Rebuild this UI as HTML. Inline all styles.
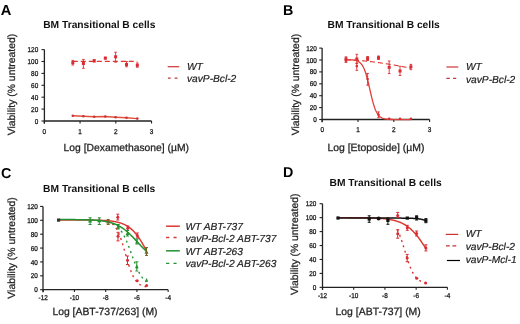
<!DOCTYPE html>
<html><head><meta charset="utf-8"><style>
html,body{margin:0;padding:0;background:#fff;}
svg{display:block;font-family:"Liberation Sans", sans-serif;text-rendering:geometricPrecision;filter:blur(0.35px);}
</style></head><body>
<svg width="520" height="324" viewBox="0 0 520 324">
<rect width="520" height="324" fill="#fff"/>
<text x="0.75" y="14.80" font-size="14.7" font-weight="bold" font-style="normal" text-anchor="start" fill="#000" >A</text>
<text x="43.20" y="27.60" font-size="10.25" font-weight="bold" font-style="normal" text-anchor="start" fill="#111" >BM Transitional B cells</text>
<line x1="44.40" y1="49.60" x2="44.40" y2="123.60" stroke="#222" stroke-width="1.3"/>
<line x1="41.50" y1="121.00" x2="44.40" y2="121.00" stroke="#222" stroke-width="1.1"/>
<text transform="translate(38.20,123.56) scale(0.9,1.0)" font-size="7.1" font-weight="normal" font-style="normal" text-anchor="end" fill="#1a1a1a" stroke="#1a1a1a" stroke-width="0.3">0</text>
<line x1="41.50" y1="109.10" x2="44.40" y2="109.10" stroke="#222" stroke-width="1.1"/>
<text transform="translate(38.20,111.66) scale(0.9,1.0)" font-size="7.1" font-weight="normal" font-style="normal" text-anchor="end" fill="#1a1a1a" stroke="#1a1a1a" stroke-width="0.3">20</text>
<line x1="41.50" y1="97.20" x2="44.40" y2="97.20" stroke="#222" stroke-width="1.1"/>
<text transform="translate(38.20,99.76) scale(0.9,1.0)" font-size="7.1" font-weight="normal" font-style="normal" text-anchor="end" fill="#1a1a1a" stroke="#1a1a1a" stroke-width="0.3">40</text>
<line x1="41.50" y1="85.30" x2="44.40" y2="85.30" stroke="#222" stroke-width="1.1"/>
<text transform="translate(38.20,87.86) scale(0.9,1.0)" font-size="7.1" font-weight="normal" font-style="normal" text-anchor="end" fill="#1a1a1a" stroke="#1a1a1a" stroke-width="0.3">60</text>
<line x1="41.50" y1="73.40" x2="44.40" y2="73.40" stroke="#222" stroke-width="1.1"/>
<text transform="translate(38.20,75.96) scale(0.9,1.0)" font-size="7.1" font-weight="normal" font-style="normal" text-anchor="end" fill="#1a1a1a" stroke="#1a1a1a" stroke-width="0.3">80</text>
<line x1="41.50" y1="61.50" x2="44.40" y2="61.50" stroke="#222" stroke-width="1.1"/>
<text transform="translate(38.20,64.06) scale(0.9,1.0)" font-size="7.1" font-weight="normal" font-style="normal" text-anchor="end" fill="#1a1a1a" stroke="#1a1a1a" stroke-width="0.3">100</text>
<line x1="41.50" y1="49.60" x2="44.40" y2="49.60" stroke="#222" stroke-width="1.1"/>
<text transform="translate(38.20,52.16) scale(0.9,1.0)" font-size="7.1" font-weight="normal" font-style="normal" text-anchor="end" fill="#1a1a1a" stroke="#1a1a1a" stroke-width="0.3">120</text>
<line x1="44.40" y1="121.00" x2="151.55" y2="121.00" stroke="#222" stroke-width="1.3"/>
<line x1="44.30" y1="121.00" x2="44.30" y2="123.40" stroke="#222" stroke-width="1.1"/>
<text transform="translate(44.30,133.56) scale(0.9,1.0)" font-size="7.1" font-weight="normal" font-style="normal" text-anchor="middle" fill="#1a1a1a" stroke="#1a1a1a" stroke-width="0.3">0</text>
<line x1="80.05" y1="121.00" x2="80.05" y2="123.40" stroke="#222" stroke-width="1.1"/>
<text transform="translate(80.05,133.56) scale(0.9,1.0)" font-size="7.1" font-weight="normal" font-style="normal" text-anchor="middle" fill="#1a1a1a" stroke="#1a1a1a" stroke-width="0.3">1</text>
<line x1="115.80" y1="121.00" x2="115.80" y2="123.40" stroke="#222" stroke-width="1.1"/>
<text transform="translate(115.80,133.56) scale(0.9,1.0)" font-size="7.1" font-weight="normal" font-style="normal" text-anchor="middle" fill="#1a1a1a" stroke="#1a1a1a" stroke-width="0.3">2</text>
<line x1="151.55" y1="121.00" x2="151.55" y2="123.40" stroke="#222" stroke-width="1.1"/>
<text transform="translate(151.55,133.56) scale(0.9,1.0)" font-size="7.1" font-weight="normal" font-style="normal" text-anchor="middle" fill="#1a1a1a" stroke="#1a1a1a" stroke-width="0.3">3</text>
<text x="63.50" y="151.30" font-size="10.35" font-weight="normal" font-style="normal" text-anchor="start" fill="#222" stroke="#222" stroke-width="0.25">Log [Dexamethasone] (µM)</text>
<text transform="translate(15.20,84.50) rotate(-90)" x="0" y="0" font-size="10.4" text-anchor="middle" fill="#222" stroke="#222" stroke-width="0.25">Viability (% untreated)</text>
<line x1="72.80" y1="61.30" x2="137.30" y2="61.30" stroke="#dc3830" stroke-width="1.2" stroke-dasharray="5,3"/>
<line x1="72.80" y1="60.40" x2="72.80" y2="65.00" stroke="#da2c34" stroke-width="0.9"/>
<line x1="71.50" y1="60.40" x2="74.10" y2="60.40" stroke="#da2c34" stroke-width="0.9"/>
<line x1="71.50" y1="65.00" x2="74.10" y2="65.00" stroke="#da2c34" stroke-width="0.9"/>
<rect x="71.30" y="61.20" width="3.0" height="3.0" fill="#da2c34"/>
<line x1="83.40" y1="59.40" x2="83.40" y2="68.30" stroke="#da2c34" stroke-width="0.9"/>
<line x1="82.10" y1="59.40" x2="84.70" y2="59.40" stroke="#da2c34" stroke-width="0.9"/>
<line x1="82.10" y1="68.30" x2="84.70" y2="68.30" stroke="#da2c34" stroke-width="0.9"/>
<rect x="81.90" y="62.00" width="3.0" height="3.0" fill="#da2c34"/>
<line x1="94.20" y1="59.60" x2="94.20" y2="62.00" stroke="#da2c34" stroke-width="0.9"/>
<line x1="92.90" y1="59.60" x2="95.50" y2="59.60" stroke="#da2c34" stroke-width="0.9"/>
<line x1="92.90" y1="62.00" x2="95.50" y2="62.00" stroke="#da2c34" stroke-width="0.9"/>
<rect x="92.70" y="59.30" width="3.0" height="3.0" fill="#da2c34"/>
<line x1="105.30" y1="57.30" x2="105.30" y2="59.00" stroke="#da2c34" stroke-width="0.9"/>
<line x1="104.00" y1="57.30" x2="106.60" y2="57.30" stroke="#da2c34" stroke-width="0.9"/>
<line x1="104.00" y1="59.00" x2="106.60" y2="59.00" stroke="#da2c34" stroke-width="0.9"/>
<rect x="103.80" y="56.60" width="3.0" height="3.0" fill="#da2c34"/>
<line x1="115.60" y1="52.20" x2="115.60" y2="62.20" stroke="#da2c34" stroke-width="0.9"/>
<line x1="114.30" y1="52.20" x2="116.90" y2="52.20" stroke="#da2c34" stroke-width="0.9"/>
<line x1="114.30" y1="62.20" x2="116.90" y2="62.20" stroke="#da2c34" stroke-width="0.9"/>
<rect x="114.10" y="55.30" width="3.0" height="3.0" fill="#da2c34"/>
<line x1="126.50" y1="61.50" x2="126.50" y2="66.80" stroke="#da2c34" stroke-width="0.9"/>
<line x1="125.20" y1="61.50" x2="127.80" y2="61.50" stroke="#da2c34" stroke-width="0.9"/>
<line x1="125.20" y1="66.80" x2="127.80" y2="66.80" stroke="#da2c34" stroke-width="0.9"/>
<rect x="125.00" y="63.00" width="3.0" height="3.0" fill="#da2c34"/>
<line x1="137.30" y1="63.00" x2="137.30" y2="67.20" stroke="#da2c34" stroke-width="0.9"/>
<line x1="136.00" y1="63.00" x2="138.60" y2="63.00" stroke="#da2c34" stroke-width="0.9"/>
<line x1="136.00" y1="67.20" x2="138.60" y2="67.20" stroke="#da2c34" stroke-width="0.9"/>
<rect x="135.80" y="63.80" width="3.0" height="3.0" fill="#da2c34"/>
<path d="M72.80,115.70 L83.40,116.20 L94.20,116.70 L105.30,116.50 L115.60,117.20 L126.50,117.80 L137.30,118.60" fill="none" stroke="#e0503a" stroke-width="1.45"/>
<circle cx="72.80" cy="115.70" r="1.3" fill="#c8343a"/>
<circle cx="83.40" cy="116.20" r="1.3" fill="#c8343a"/>
<circle cx="94.20" cy="116.70" r="1.3" fill="#c8343a"/>
<circle cx="105.30" cy="116.50" r="1.3" fill="#c8343a"/>
<circle cx="115.60" cy="117.20" r="1.3" fill="#c8343a"/>
<circle cx="126.50" cy="117.80" r="1.3" fill="#c8343a"/>
<circle cx="137.30" cy="118.60" r="1.3" fill="#c8343a"/>
<line x1="167.70" y1="66.70" x2="179.20" y2="66.70" stroke="#cc3434" stroke-width="1.2"/>
<text x="187.00" y="69.50" font-size="10.2" font-weight="normal" font-style="italic" text-anchor="start" fill="#222" stroke="#222" stroke-width="0.2">WT</text>
<line x1="167.90" y1="78.10" x2="177.80" y2="78.10" stroke="#b83a3a" stroke-width="1.3" stroke-dasharray="2.8,3.9"/>
<text x="187.00" y="82.20" font-size="10.2" font-weight="normal" font-style="italic" text-anchor="start" fill="#222" stroke="#222" stroke-width="0.2">vavP-Bcl-2</text>
<text x="282.90" y="14.80" font-size="14.3" font-weight="bold" font-style="normal" text-anchor="start" fill="#000" >B</text>
<text x="327.50" y="27.70" font-size="10.25" font-weight="bold" font-style="normal" text-anchor="start" fill="#111" >BM Transitional B cells</text>
<line x1="322.10" y1="48.10" x2="322.10" y2="122.20" stroke="#222" stroke-width="1.3"/>
<line x1="319.20" y1="119.50" x2="322.10" y2="119.50" stroke="#222" stroke-width="1.1"/>
<text transform="translate(316.80,122.06) scale(0.9,1.0)" font-size="7.1" font-weight="normal" font-style="normal" text-anchor="end" fill="#1a1a1a" stroke="#1a1a1a" stroke-width="0.3">0</text>
<line x1="319.20" y1="107.60" x2="322.10" y2="107.60" stroke="#222" stroke-width="1.1"/>
<text transform="translate(316.80,110.16) scale(0.9,1.0)" font-size="7.1" font-weight="normal" font-style="normal" text-anchor="end" fill="#1a1a1a" stroke="#1a1a1a" stroke-width="0.3">20</text>
<line x1="319.20" y1="95.70" x2="322.10" y2="95.70" stroke="#222" stroke-width="1.1"/>
<text transform="translate(316.80,98.26) scale(0.9,1.0)" font-size="7.1" font-weight="normal" font-style="normal" text-anchor="end" fill="#1a1a1a" stroke="#1a1a1a" stroke-width="0.3">40</text>
<line x1="319.20" y1="83.80" x2="322.10" y2="83.80" stroke="#222" stroke-width="1.1"/>
<text transform="translate(316.80,86.36) scale(0.9,1.0)" font-size="7.1" font-weight="normal" font-style="normal" text-anchor="end" fill="#1a1a1a" stroke="#1a1a1a" stroke-width="0.3">60</text>
<line x1="319.20" y1="71.90" x2="322.10" y2="71.90" stroke="#222" stroke-width="1.1"/>
<text transform="translate(316.80,74.46) scale(0.9,1.0)" font-size="7.1" font-weight="normal" font-style="normal" text-anchor="end" fill="#1a1a1a" stroke="#1a1a1a" stroke-width="0.3">80</text>
<line x1="319.20" y1="60.00" x2="322.10" y2="60.00" stroke="#222" stroke-width="1.1"/>
<text transform="translate(316.80,62.56) scale(0.9,1.0)" font-size="7.1" font-weight="normal" font-style="normal" text-anchor="end" fill="#1a1a1a" stroke="#1a1a1a" stroke-width="0.3">100</text>
<line x1="319.20" y1="48.10" x2="322.10" y2="48.10" stroke="#222" stroke-width="1.1"/>
<text transform="translate(316.80,50.66) scale(0.9,1.0)" font-size="7.1" font-weight="normal" font-style="normal" text-anchor="end" fill="#1a1a1a" stroke="#1a1a1a" stroke-width="0.3">120</text>
<line x1="322.10" y1="119.50" x2="429.60" y2="119.50" stroke="#222" stroke-width="1.3"/>
<line x1="322.20" y1="119.50" x2="322.20" y2="121.90" stroke="#222" stroke-width="1.1"/>
<text transform="translate(322.20,131.96) scale(0.9,1.0)" font-size="7.1" font-weight="normal" font-style="normal" text-anchor="middle" fill="#1a1a1a" stroke="#1a1a1a" stroke-width="0.3">0</text>
<line x1="358.00" y1="119.50" x2="358.00" y2="121.90" stroke="#222" stroke-width="1.1"/>
<text transform="translate(358.00,131.96) scale(0.9,1.0)" font-size="7.1" font-weight="normal" font-style="normal" text-anchor="middle" fill="#1a1a1a" stroke="#1a1a1a" stroke-width="0.3">1</text>
<line x1="393.80" y1="119.50" x2="393.80" y2="121.90" stroke="#222" stroke-width="1.1"/>
<text transform="translate(393.80,131.96) scale(0.9,1.0)" font-size="7.1" font-weight="normal" font-style="normal" text-anchor="middle" fill="#1a1a1a" stroke="#1a1a1a" stroke-width="0.3">2</text>
<line x1="429.60" y1="119.50" x2="429.60" y2="121.90" stroke="#222" stroke-width="1.1"/>
<text transform="translate(429.60,131.96) scale(0.9,1.0)" font-size="7.1" font-weight="normal" font-style="normal" text-anchor="middle" fill="#1a1a1a" stroke="#1a1a1a" stroke-width="0.3">3</text>
<text x="327.40" y="151.20" font-size="10.45" font-weight="normal" font-style="normal" text-anchor="start" fill="#222" stroke="#222" stroke-width="0.25">Log [Etoposide] (µM)</text>
<text transform="translate(298.60,84.60) rotate(-90)" x="0" y="0" font-size="10.4" text-anchor="middle" fill="#222" stroke="#222" stroke-width="0.25">Viability (% untreated)</text>
<path d="M346.00,59.80 L346.50,59.80 L347.00,59.81 L347.50,59.82 L348.00,59.83 L348.50,59.85 L349.00,59.86 L349.50,59.88 L350.00,59.90 L350.50,59.92 L351.00,59.94 L351.50,59.96 L352.00,59.99 L352.50,60.01 L353.00,60.04 L353.50,60.07 L354.00,60.10 L354.50,60.13 L355.00,60.16 L355.50,60.19 L356.00,60.23 L356.50,60.26 L357.00,60.30 L357.50,60.33 L358.00,60.37 L358.50,60.41 L359.00,60.45 L359.50,60.49 L360.00,60.53 L360.50,60.57 L361.00,60.61 L361.50,60.66 L362.00,60.70 L362.50,60.75 L363.00,60.79 L363.50,60.84 L364.00,60.89 L364.50,60.94 L365.00,60.99 L365.50,61.04 L366.00,61.09 L366.50,61.14 L367.00,61.19 L367.50,61.25 L368.00,61.30 L368.50,61.36 L369.00,61.41 L369.50,61.47 L370.00,61.53 L370.50,61.58 L371.00,61.64 L371.50,61.70 L372.00,61.76 L372.50,61.82 L373.00,61.88 L373.50,61.95 L374.00,62.01 L374.50,62.07 L375.00,62.14 L375.50,62.20 L376.00,62.27 L376.50,62.33 L377.00,62.40 L377.50,62.47 L378.00,62.54 L378.50,62.60 L379.00,62.67 L379.50,62.74 L380.00,62.81 L380.50,62.89 L381.00,62.96 L381.50,63.03 L382.00,63.10 L382.50,63.18 L383.00,63.25 L383.50,63.33 L384.00,63.40 L384.50,63.48 L385.00,63.55 L385.50,63.63 L386.00,63.71 L386.50,63.79 L387.00,63.87 L387.50,63.95 L388.00,64.03 L388.50,64.11 L389.00,64.19 L389.50,64.27 L390.00,64.35 L390.50,64.44 L391.00,64.52 L391.50,64.60 L392.00,64.69 L392.50,64.77 L393.00,64.86 L393.50,64.95 L394.00,65.03 L394.50,65.12 L395.00,65.21 L395.50,65.30 L396.00,65.39 L396.50,65.48 L397.00,65.57 L397.50,65.66 L398.00,65.75 L398.50,65.84 L399.00,65.93 L399.50,66.02 L400.00,66.12 L400.50,66.21 L401.00,66.31 L401.50,66.40 L402.00,66.50 L402.50,66.59 L403.00,66.69 L403.50,66.79 L404.00,66.88 L404.50,66.98 L405.00,67.08 L405.50,67.18 L406.00,67.28 L406.50,67.38 L407.00,67.48 L407.50,67.58 L408.00,67.68 L408.50,67.78 L409.00,67.89 L409.50,67.99 L410.00,68.09 L410.50,68.20 L411.00,68.30" fill="none" stroke="#dc3830" stroke-width="1.1" stroke-dasharray="5,3"/>
<line x1="346.00" y1="57.20" x2="346.00" y2="62.30" stroke="#da2c34" stroke-width="0.9"/>
<line x1="344.70" y1="57.20" x2="347.30" y2="57.20" stroke="#da2c34" stroke-width="0.9"/>
<line x1="344.70" y1="62.30" x2="347.30" y2="62.30" stroke="#da2c34" stroke-width="0.9"/>
<rect x="344.50" y="58.10" width="3.0" height="3.0" fill="#da2c34"/>
<line x1="356.80" y1="54.30" x2="356.80" y2="63.00" stroke="#da2c34" stroke-width="0.9"/>
<line x1="355.50" y1="54.30" x2="358.10" y2="54.30" stroke="#da2c34" stroke-width="0.9"/>
<line x1="355.50" y1="63.00" x2="358.10" y2="63.00" stroke="#da2c34" stroke-width="0.9"/>
<rect x="355.30" y="57.50" width="3.0" height="3.0" fill="#da2c34"/>
<line x1="367.60" y1="56.50" x2="367.60" y2="60.50" stroke="#da2c34" stroke-width="0.9"/>
<line x1="366.30" y1="56.50" x2="368.90" y2="56.50" stroke="#da2c34" stroke-width="0.9"/>
<line x1="366.30" y1="60.50" x2="368.90" y2="60.50" stroke="#da2c34" stroke-width="0.9"/>
<rect x="366.10" y="57.00" width="3.0" height="3.0" fill="#da2c34"/>
<line x1="378.50" y1="56.00" x2="378.50" y2="59.50" stroke="#da2c34" stroke-width="0.9"/>
<line x1="377.20" y1="56.00" x2="379.80" y2="56.00" stroke="#da2c34" stroke-width="0.9"/>
<line x1="377.20" y1="59.50" x2="379.80" y2="59.50" stroke="#da2c34" stroke-width="0.9"/>
<rect x="377.00" y="56.20" width="3.0" height="3.0" fill="#da2c34"/>
<line x1="389.20" y1="61.00" x2="389.20" y2="73.60" stroke="#da2c34" stroke-width="0.9"/>
<line x1="387.90" y1="61.00" x2="390.50" y2="61.00" stroke="#da2c34" stroke-width="0.9"/>
<line x1="387.90" y1="73.60" x2="390.50" y2="73.60" stroke="#da2c34" stroke-width="0.9"/>
<rect x="387.70" y="65.80" width="3.0" height="3.0" fill="#da2c34"/>
<line x1="400.00" y1="66.30" x2="400.00" y2="75.50" stroke="#da2c34" stroke-width="0.9"/>
<line x1="398.70" y1="66.30" x2="401.30" y2="66.30" stroke="#da2c34" stroke-width="0.9"/>
<line x1="398.70" y1="75.50" x2="401.30" y2="75.50" stroke="#da2c34" stroke-width="0.9"/>
<rect x="398.50" y="69.50" width="3.0" height="3.0" fill="#da2c34"/>
<line x1="410.90" y1="64.40" x2="410.90" y2="69.70" stroke="#da2c34" stroke-width="0.9"/>
<line x1="409.60" y1="64.40" x2="412.20" y2="64.40" stroke="#da2c34" stroke-width="0.9"/>
<line x1="409.60" y1="69.70" x2="412.20" y2="69.70" stroke="#da2c34" stroke-width="0.9"/>
<rect x="409.40" y="65.30" width="3.0" height="3.0" fill="#da2c34"/>
<path d="M346.00,59.65 L346.50,59.66 L347.00,59.67 L347.50,59.68 L348.00,59.70 L348.50,59.71 L349.00,59.73 L349.50,59.75 L350.00,59.77 L350.50,59.80 L351.00,59.83 L351.50,59.87 L352.00,59.91 L352.50,59.96 L353.00,60.01 L353.50,60.08 L354.00,60.15 L354.50,60.24 L355.00,60.34 L355.50,60.46 L356.00,60.59 L356.50,60.74 L357.00,60.92 L357.50,61.12 L358.00,61.36 L358.50,61.63 L359.00,61.94 L359.50,62.29 L360.00,62.69 L360.50,63.16 L361.00,63.68 L361.50,64.28 L362.00,64.95 L362.50,65.71 L363.00,66.57 L363.50,67.53 L364.00,68.59 L364.50,69.78 L365.00,71.08 L365.50,72.51 L366.00,74.06 L366.50,75.74 L367.00,77.53 L367.50,79.43 L368.00,81.43 L368.50,83.51 L369.00,85.65 L369.50,87.84 L370.00,90.04 L370.50,92.24 L371.00,94.41 L371.50,96.53 L372.00,98.58 L372.50,100.54 L373.00,102.40 L373.50,104.15 L374.00,105.77 L374.50,107.28 L375.00,108.65 L375.50,109.91 L376.00,111.05 L376.50,112.07 L377.00,112.99 L377.50,113.80 L378.00,114.53 L378.50,115.17 L379.00,115.74 L379.50,116.24 L380.00,116.67 L380.50,117.06 L381.00,117.39 L381.50,117.68 L382.00,117.94 L382.50,118.16 L383.00,118.35 L383.50,118.52 L384.00,118.67 L384.50,118.79 L385.00,118.90 L385.50,119.00 L386.00,119.08 L386.50,119.15 L387.00,119.21 L387.50,119.26 L388.00,119.31 L388.50,119.35 L389.00,119.38 L389.50,119.41 L390.00,119.44 L390.50,119.46 L391.00,119.48 L391.50,119.50 L392.00,119.51 L392.50,119.52 L393.00,119.53 L393.50,119.54 L394.00,119.55 L394.50,119.56 L395.00,119.56 L395.50,119.57 L396.00,119.57 L396.50,119.58 L397.00,119.58 L397.50,119.58 L398.00,119.58 L398.50,119.59 L399.00,119.59 L399.50,119.59 L400.00,119.59 L400.50,119.59 L401.00,119.59 L401.50,119.59 L402.00,119.60 L402.50,119.60 L403.00,119.60 L403.50,119.60 L404.00,119.60 L404.50,119.60 L405.00,119.60 L405.50,119.60 L406.00,119.60 L406.50,119.60 L407.00,119.60 L407.50,119.60 L408.00,119.60 L408.50,119.60 L409.00,119.60 L409.50,119.60 L410.00,119.60 L410.50,119.60 L411.00,119.60" fill="none" stroke="#e0403a" stroke-width="1.3"/>
<line x1="346.00" y1="57.00" x2="346.00" y2="62.00" stroke="#da2c34" stroke-width="0.9"/>
<line x1="344.70" y1="57.00" x2="347.30" y2="57.00" stroke="#da2c34" stroke-width="0.9"/>
<line x1="344.70" y1="62.00" x2="347.30" y2="62.00" stroke="#da2c34" stroke-width="0.9"/>
<circle cx="346.00" cy="59.50" r="1.3" fill="#da2c34"/>
<line x1="356.80" y1="63.50" x2="356.80" y2="70.40" stroke="#da2c34" stroke-width="0.9"/>
<line x1="355.50" y1="63.50" x2="358.10" y2="63.50" stroke="#da2c34" stroke-width="0.9"/>
<line x1="355.50" y1="70.40" x2="358.10" y2="70.40" stroke="#da2c34" stroke-width="0.9"/>
<circle cx="356.80" cy="66.10" r="1.3" fill="#da2c34"/>
<line x1="367.60" y1="73.50" x2="367.60" y2="85.20" stroke="#da2c34" stroke-width="0.9"/>
<line x1="366.30" y1="73.50" x2="368.90" y2="73.50" stroke="#da2c34" stroke-width="0.9"/>
<line x1="366.30" y1="85.20" x2="368.90" y2="85.20" stroke="#da2c34" stroke-width="0.9"/>
<circle cx="367.60" cy="79.00" r="1.3" fill="#da2c34"/>
<line x1="378.50" y1="111.90" x2="378.50" y2="117.70" stroke="#da2c34" stroke-width="0.9"/>
<line x1="377.20" y1="111.90" x2="379.80" y2="111.90" stroke="#da2c34" stroke-width="0.9"/>
<line x1="377.20" y1="117.70" x2="379.80" y2="117.70" stroke="#da2c34" stroke-width="0.9"/>
<circle cx="378.50" cy="114.80" r="1.3" fill="#da2c34"/>
<circle cx="389.20" cy="118.80" r="1.3" fill="#da2c34"/>
<circle cx="400.00" cy="118.80" r="1.3" fill="#da2c34"/>
<circle cx="410.90" cy="118.80" r="1.3" fill="#da2c34"/>
<line x1="446.40" y1="67.00" x2="458.30" y2="67.00" stroke="#cc3434" stroke-width="1.2"/>
<text x="466.00" y="69.70" font-size="10.2" font-weight="normal" font-style="italic" text-anchor="start" fill="#222" stroke="#222" stroke-width="0.2">WT</text>
<line x1="446.40" y1="78.40" x2="456.20" y2="78.40" stroke="#b83a3a" stroke-width="1.3" stroke-dasharray="3.4,3.3"/>
<text x="466.00" y="82.60" font-size="10.2" font-weight="normal" font-style="italic" text-anchor="start" fill="#222" stroke="#222" stroke-width="0.2">vavP-Bcl-2</text>
<text x="1.00" y="177.80" font-size="14.3" font-weight="bold" font-style="normal" text-anchor="start" fill="#000" >C</text>
<text x="43.10" y="191.80" font-size="10.25" font-weight="bold" font-style="normal" text-anchor="start" fill="#111" >BM Transitional B cells</text>
<line x1="43.00" y1="206.42" x2="43.00" y2="292.20" stroke="#222" stroke-width="1.3"/>
<line x1="40.10" y1="289.70" x2="43.00" y2="289.70" stroke="#222" stroke-width="1.1"/>
<text transform="translate(37.80,292.26) scale(0.9,1.0)" font-size="7.1" font-weight="normal" font-style="normal" text-anchor="end" fill="#1a1a1a" stroke="#1a1a1a" stroke-width="0.3">0</text>
<line x1="40.10" y1="275.82" x2="43.00" y2="275.82" stroke="#222" stroke-width="1.1"/>
<text transform="translate(37.80,278.38) scale(0.9,1.0)" font-size="7.1" font-weight="normal" font-style="normal" text-anchor="end" fill="#1a1a1a" stroke="#1a1a1a" stroke-width="0.3">20</text>
<line x1="40.10" y1="261.94" x2="43.00" y2="261.94" stroke="#222" stroke-width="1.1"/>
<text transform="translate(37.80,264.50) scale(0.9,1.0)" font-size="7.1" font-weight="normal" font-style="normal" text-anchor="end" fill="#1a1a1a" stroke="#1a1a1a" stroke-width="0.3">40</text>
<line x1="40.10" y1="248.06" x2="43.00" y2="248.06" stroke="#222" stroke-width="1.1"/>
<text transform="translate(37.80,250.62) scale(0.9,1.0)" font-size="7.1" font-weight="normal" font-style="normal" text-anchor="end" fill="#1a1a1a" stroke="#1a1a1a" stroke-width="0.3">60</text>
<line x1="40.10" y1="234.18" x2="43.00" y2="234.18" stroke="#222" stroke-width="1.1"/>
<text transform="translate(37.80,236.74) scale(0.9,1.0)" font-size="7.1" font-weight="normal" font-style="normal" text-anchor="end" fill="#1a1a1a" stroke="#1a1a1a" stroke-width="0.3">80</text>
<line x1="40.10" y1="220.30" x2="43.00" y2="220.30" stroke="#222" stroke-width="1.1"/>
<text transform="translate(37.80,222.86) scale(0.9,1.0)" font-size="7.1" font-weight="normal" font-style="normal" text-anchor="end" fill="#1a1a1a" stroke="#1a1a1a" stroke-width="0.3">100</text>
<line x1="40.10" y1="206.42" x2="43.00" y2="206.42" stroke="#222" stroke-width="1.1"/>
<text transform="translate(37.80,208.98) scale(0.9,1.0)" font-size="7.1" font-weight="normal" font-style="normal" text-anchor="end" fill="#1a1a1a" stroke="#1a1a1a" stroke-width="0.3">120</text>
<line x1="43.00" y1="289.70" x2="168.16" y2="289.70" stroke="#222" stroke-width="1.3"/>
<line x1="43.20" y1="289.70" x2="43.20" y2="292.10" stroke="#222" stroke-width="1.1"/>
<text transform="translate(43.20,299.76) scale(0.9,1.0)" font-size="7.1" font-weight="normal" font-style="normal" text-anchor="middle" fill="#1a1a1a" stroke="#1a1a1a" stroke-width="0.3">-12</text>
<line x1="74.44" y1="289.70" x2="74.44" y2="292.10" stroke="#222" stroke-width="1.1"/>
<text transform="translate(74.44,299.76) scale(0.9,1.0)" font-size="7.1" font-weight="normal" font-style="normal" text-anchor="middle" fill="#1a1a1a" stroke="#1a1a1a" stroke-width="0.3">-10</text>
<line x1="105.68" y1="289.70" x2="105.68" y2="292.10" stroke="#222" stroke-width="1.1"/>
<text transform="translate(105.68,299.76) scale(0.9,1.0)" font-size="7.1" font-weight="normal" font-style="normal" text-anchor="middle" fill="#1a1a1a" stroke="#1a1a1a" stroke-width="0.3">-8</text>
<line x1="136.92" y1="289.70" x2="136.92" y2="292.10" stroke="#222" stroke-width="1.1"/>
<text transform="translate(136.92,299.76) scale(0.9,1.0)" font-size="7.1" font-weight="normal" font-style="normal" text-anchor="middle" fill="#1a1a1a" stroke="#1a1a1a" stroke-width="0.3">-6</text>
<line x1="168.16" y1="289.70" x2="168.16" y2="292.10" stroke="#222" stroke-width="1.1"/>
<text transform="translate(168.16,299.76) scale(0.9,1.0)" font-size="7.1" font-weight="normal" font-style="normal" text-anchor="middle" fill="#1a1a1a" stroke="#1a1a1a" stroke-width="0.3">-4</text>
<text x="52.40" y="315.20" font-size="10.4" font-weight="normal" font-style="normal" text-anchor="start" fill="#222" stroke="#222" stroke-width="0.25">Log [ABT-737/263] (M)</text>
<text transform="translate(14.60,247.90) rotate(-90)" x="0" y="0" font-size="10.4" text-anchor="middle" fill="#222" stroke="#222" stroke-width="0.25">Viability (% untreated)</text>
<path d="M107.30,221.13 L107.61,221.23 L107.93,221.34 L108.24,221.46 L108.55,221.58 L108.86,221.71 L109.17,221.85 L109.49,222.00 L109.80,222.16 L110.11,222.33 L110.42,222.50 L110.74,222.69 L111.05,222.89 L111.36,223.10 L111.67,223.32 L111.98,223.56 L112.30,223.81 L112.61,224.07 L112.92,224.35 L113.23,224.65 L113.55,224.96 L113.86,225.29 L114.17,225.64 L114.48,226.01 L114.79,226.40 L115.11,226.80 L115.42,227.23 L115.73,227.68 L116.04,228.16 L116.35,228.65 L116.67,229.17 L116.98,229.72 L117.29,230.29 L117.60,230.88 L117.92,231.51 L118.23,232.16 L118.54,232.83 L118.85,233.53 L119.16,234.27 L119.48,235.02 L119.79,235.81 L120.10,236.62 L120.41,237.46 L120.73,238.32 L121.04,239.21 L121.35,240.12 L121.66,241.06 L121.97,242.02 L122.29,243.00 L122.60,244.00 L122.91,245.02 L123.22,246.06 L123.54,247.11 L123.85,248.18 L124.16,249.25 L124.47,250.34 L124.78,251.43 L125.10,252.52 L125.41,253.62 L125.72,254.72 L126.03,255.81 L126.35,256.91 L126.66,257.99 L126.97,259.07 L127.28,260.13 L127.59,261.18 L127.91,262.22 L128.22,263.24 L128.53,264.24 L128.84,265.22 L129.15,266.18 L129.47,267.12 L129.78,268.03 L130.09,268.92 L130.40,269.79 L130.72,270.62 L131.03,271.44 L131.34,272.22 L131.65,272.98 L131.96,273.71 L132.28,274.41 L132.59,275.09 L132.90,275.74 L133.21,276.36 L133.53,276.95 L133.84,277.52 L134.15,278.07 L134.46,278.59 L134.77,279.09 L135.09,279.56 L135.40,280.01 L135.71,280.44 L136.02,280.85 L136.34,281.23 L136.65,281.60 L136.96,281.95 L137.27,282.28 L137.58,282.59 L137.90,282.89 L138.21,283.17 L138.52,283.43 L138.83,283.68 L139.15,283.92 L139.46,284.14 L139.77,284.35 L140.08,284.55 L140.39,284.74 L140.71,284.92 L141.02,285.08 L141.33,285.24 L141.64,285.39 L141.96,285.53 L142.27,285.66 L142.58,285.78 L142.89,285.90 L143.20,286.01 L143.52,286.11 L143.83,286.21 L144.14,286.30 L144.45,286.38 L144.76,286.46 L145.08,286.54 L145.39,286.61 L145.70,286.68 L146.01,286.74 L146.33,286.80" fill="none" stroke="#dc3830" stroke-width="1.4" stroke-dasharray="2,3.6"/>
<path d="M107.30,222.10 L107.61,222.17 L107.93,222.23 L108.24,222.30 L108.55,222.37 L108.86,222.44 L109.17,222.52 L109.49,222.60 L109.80,222.68 L110.11,222.77 L110.42,222.87 L110.74,222.97 L111.05,223.07 L111.36,223.18 L111.67,223.29 L111.98,223.41 L112.30,223.54 L112.61,223.67 L112.92,223.81 L113.23,223.96 L113.55,224.11 L113.86,224.27 L114.17,224.44 L114.48,224.61 L114.79,224.80 L115.11,224.99 L115.42,225.19 L115.73,225.40 L116.04,225.62 L116.35,225.85 L116.67,226.10 L116.98,226.35 L117.29,226.61 L117.60,226.89 L117.92,227.17 L118.23,227.47 L118.54,227.79 L118.85,228.11 L119.16,228.45 L119.48,228.80 L119.79,229.17 L120.10,229.55 L120.41,229.95 L120.73,230.36 L121.04,230.79 L121.35,231.23 L121.66,231.69 L121.97,232.17 L122.29,232.66 L122.60,233.17 L122.91,233.70 L123.22,234.24 L123.54,234.80 L123.85,235.38 L124.16,235.97 L124.47,236.59 L124.78,237.21 L125.10,237.86 L125.41,238.52 L125.72,239.20 L126.03,239.90 L126.35,240.61 L126.66,241.33 L126.97,242.07 L127.28,242.83 L127.59,243.60 L127.91,244.38 L128.22,245.17 L128.53,245.97 L128.84,246.79 L129.15,247.61 L129.47,248.44 L129.78,249.28 L130.09,250.12 L130.40,250.97 L130.72,251.83 L131.03,252.68 L131.34,253.54 L131.65,254.40 L131.96,255.26 L132.28,256.12 L132.59,256.97 L132.90,257.82 L133.21,258.67 L133.53,259.50 L133.84,260.34 L134.15,261.16 L134.46,261.97 L134.77,262.78 L135.09,263.57 L135.40,264.35 L135.71,265.12 L136.02,265.87 L136.34,266.61 L136.65,267.34 L136.96,268.05 L137.27,268.74 L137.58,269.42 L137.90,270.08 L138.21,270.73 L138.52,271.36 L138.83,271.97 L139.15,272.57 L139.46,273.15 L139.77,273.71 L140.08,274.25 L140.39,274.78 L140.71,275.29 L141.02,275.78 L141.33,276.25 L141.64,276.71 L141.96,277.16 L142.27,277.59 L142.58,278.00 L142.89,278.39 L143.20,278.78 L143.52,279.14 L143.83,279.50 L144.14,279.83 L144.45,280.16 L144.76,280.47 L145.08,280.77 L145.39,281.06 L145.70,281.33 L146.01,281.60 L146.33,281.85" fill="none" stroke="#239130" stroke-width="1.4" stroke-dasharray="2,3.6"/>
<path d="M58.91,219.92 L59.22,219.92 L59.53,219.92 L59.85,219.92 L60.16,219.92 L60.47,219.92 L60.78,219.92 L61.10,219.92 L61.41,219.92 L61.72,219.92 L62.03,219.92 L62.34,219.92 L62.66,219.92 L62.97,219.92 L63.28,219.92 L63.59,219.92 L63.91,219.92 L64.22,219.92 L64.53,219.92 L64.84,219.92 L65.15,219.92 L65.47,219.92 L65.78,219.92 L66.09,219.92 L66.40,219.92 L66.72,219.92 L67.03,219.92 L67.34,219.92 L67.65,219.93 L67.96,219.93 L68.28,219.93 L68.59,219.93 L68.90,219.93 L69.21,219.93 L69.52,219.93 L69.84,219.93 L70.15,219.93 L70.46,219.93 L70.77,219.93 L71.09,219.93 L71.40,219.93 L71.71,219.93 L72.02,219.93 L72.33,219.93 L72.65,219.93 L72.96,219.93 L73.27,219.93 L73.58,219.93 L73.90,219.93 L74.21,219.94 L74.52,219.94 L74.83,219.94 L75.14,219.94 L75.46,219.94 L75.77,219.94 L76.08,219.94 L76.39,219.94 L76.71,219.94 L77.02,219.94 L77.33,219.94 L77.64,219.94 L77.95,219.95 L78.27,219.95 L78.58,219.95 L78.89,219.95 L79.20,219.95 L79.52,219.95 L79.83,219.95 L80.14,219.95 L80.45,219.96 L80.76,219.96 L81.08,219.96 L81.39,219.96 L81.70,219.96 L82.01,219.96 L82.32,219.96 L82.64,219.97 L82.95,219.97 L83.26,219.97 L83.57,219.97 L83.89,219.97 L84.20,219.98 L84.51,219.98 L84.82,219.98 L85.13,219.98 L85.45,219.98 L85.76,219.99 L86.07,219.99 L86.38,219.99 L86.70,220.00 L87.01,220.00 L87.32,220.00 L87.63,220.00 L87.94,220.01 L88.26,220.01 L88.57,220.01 L88.88,220.02 L89.19,220.02 L89.51,220.02 L89.82,220.03 L90.13,220.03 L90.44,220.04 L90.75,220.04 L91.07,220.04 L91.38,220.05 L91.69,220.05 L92.00,220.06 L92.32,220.06 L92.63,220.07 L92.94,220.07 L93.25,220.08 L93.56,220.08 L93.88,220.09 L94.19,220.10 L94.50,220.10 L94.81,220.11 L95.13,220.12 L95.44,220.12 L95.75,220.13 L96.06,220.14 L96.37,220.14 L96.69,220.15 L97.00,220.16 L97.31,220.17 L97.62,220.18 L97.94,220.19 L98.25,220.20 L98.56,220.21 L98.87,220.22 L99.18,220.23 L99.50,220.24 L99.81,220.25 L100.12,220.26 L100.43,220.27 L100.74,220.28 L101.06,220.30 L101.37,220.31 L101.68,220.32 L101.99,220.34 L102.31,220.35 L102.62,220.37 L102.93,220.38 L103.24,220.40 L103.55,220.42 L103.87,220.43 L104.18,220.45 L104.49,220.47 L104.80,220.49 L105.12,220.51 L105.43,220.53 L105.74,220.55 L106.05,220.57 L106.36,220.60 L106.68,220.62 L106.99,220.64 L107.30,220.67 L107.61,220.69 L107.93,220.72 L108.24,220.75 L108.55,220.78 L108.86,220.81 L109.17,220.84 L109.49,220.87 L109.80,220.90 L110.11,220.94 L110.42,220.97 L110.74,221.01 L111.05,221.04 L111.36,221.08 L111.67,221.12 L111.98,221.16 L112.30,221.21 L112.61,221.25 L112.92,221.30 L113.23,221.34 L113.55,221.39 L113.86,221.44 L114.17,221.49 L114.48,221.55 L114.79,221.60 L115.11,221.66 L115.42,221.72 L115.73,221.78 L116.04,221.84 L116.35,221.91 L116.67,221.98 L116.98,222.05 L117.29,222.12 L117.60,222.19 L117.92,222.27 L118.23,222.35 L118.54,222.43 L118.85,222.51 L119.16,222.60 L119.48,222.69 L119.79,222.78 L120.10,222.88 L120.41,222.97 L120.73,223.08 L121.04,223.18 L121.35,223.29 L121.66,223.40 L121.97,223.52 L122.29,223.63 L122.60,223.76 L122.91,223.88 L123.22,224.01 L123.54,224.15 L123.85,224.28 L124.16,224.43 L124.47,224.57 L124.78,224.72 L125.10,224.88 L125.41,225.04 L125.72,225.20 L126.03,225.37 L126.35,225.55 L126.66,225.73 L126.97,225.91 L127.28,226.10 L127.59,226.30 L127.91,226.50 L128.22,226.70 L128.53,226.91 L128.84,227.13 L129.15,227.36 L129.47,227.59 L129.78,227.82 L130.09,228.07 L130.40,228.32 L130.72,228.57 L131.03,228.83 L131.34,229.10 L131.65,229.38 L131.96,229.66 L132.28,229.95 L132.59,230.25 L132.90,230.56 L133.21,230.87 L133.53,231.19 L133.84,231.51 L134.15,231.85 L134.46,232.19 L134.77,232.54 L135.09,232.90 L135.40,233.26 L135.71,233.63 L136.02,234.01 L136.34,234.40 L136.65,234.80 L136.96,235.20 L137.27,235.62 L137.58,236.04 L137.90,236.46 L138.21,236.90 L138.52,237.34 L138.83,237.79 L139.15,238.25 L139.46,238.72 L139.77,239.19 L140.08,239.67 L140.39,240.16 L140.71,240.65 L141.02,241.16 L141.33,241.66 L141.64,242.18 L141.96,242.70 L142.27,243.23 L142.58,243.76 L142.89,244.30 L143.20,244.85 L143.52,245.40 L143.83,245.95 L144.14,246.51 L144.45,247.08 L144.76,247.65 L145.08,248.22 L145.39,248.80 L145.70,249.38 L146.01,249.96 L146.33,250.55" fill="none" stroke="#dc3830" stroke-width="1.45"/>
<path d="M58.91,219.54 L59.22,219.54 L59.53,219.54 L59.85,219.54 L60.16,219.55 L60.47,219.55 L60.78,219.55 L61.10,219.55 L61.41,219.55 L61.72,219.55 L62.03,219.55 L62.34,219.55 L62.66,219.55 L62.97,219.55 L63.28,219.55 L63.59,219.56 L63.91,219.56 L64.22,219.56 L64.53,219.56 L64.84,219.56 L65.15,219.56 L65.47,219.56 L65.78,219.56 L66.09,219.56 L66.40,219.57 L66.72,219.57 L67.03,219.57 L67.34,219.57 L67.65,219.57 L67.96,219.57 L68.28,219.57 L68.59,219.58 L68.90,219.58 L69.21,219.58 L69.52,219.58 L69.84,219.58 L70.15,219.58 L70.46,219.59 L70.77,219.59 L71.09,219.59 L71.40,219.59 L71.71,219.60 L72.02,219.60 L72.33,219.60 L72.65,219.60 L72.96,219.60 L73.27,219.61 L73.58,219.61 L73.90,219.61 L74.21,219.62 L74.52,219.62 L74.83,219.62 L75.14,219.62 L75.46,219.63 L75.77,219.63 L76.08,219.63 L76.39,219.64 L76.71,219.64 L77.02,219.64 L77.33,219.65 L77.64,219.65 L77.95,219.66 L78.27,219.66 L78.58,219.67 L78.89,219.67 L79.20,219.67 L79.52,219.68 L79.83,219.68 L80.14,219.69 L80.45,219.69 L80.76,219.70 L81.08,219.70 L81.39,219.71 L81.70,219.72 L82.01,219.72 L82.32,219.73 L82.64,219.73 L82.95,219.74 L83.26,219.75 L83.57,219.76 L83.89,219.76 L84.20,219.77 L84.51,219.78 L84.82,219.79 L85.13,219.79 L85.45,219.80 L85.76,219.81 L86.07,219.82 L86.38,219.83 L86.70,219.84 L87.01,219.85 L87.32,219.86 L87.63,219.87 L87.94,219.88 L88.26,219.89 L88.57,219.90 L88.88,219.91 L89.19,219.92 L89.51,219.94 L89.82,219.95 L90.13,219.96 L90.44,219.98 L90.75,219.99 L91.07,220.01 L91.38,220.02 L91.69,220.04 L92.00,220.05 L92.32,220.07 L92.63,220.08 L92.94,220.10 L93.25,220.12 L93.56,220.14 L93.88,220.16 L94.19,220.18 L94.50,220.20 L94.81,220.22 L95.13,220.24 L95.44,220.26 L95.75,220.28 L96.06,220.30 L96.37,220.33 L96.69,220.35 L97.00,220.38 L97.31,220.40 L97.62,220.43 L97.94,220.46 L98.25,220.49 L98.56,220.52 L98.87,220.55 L99.18,220.58 L99.50,220.61 L99.81,220.64 L100.12,220.68 L100.43,220.71 L100.74,220.75 L101.06,220.78 L101.37,220.82 L101.68,220.86 L101.99,220.90 L102.31,220.94 L102.62,220.99 L102.93,221.03 L103.24,221.08 L103.55,221.12 L103.87,221.17 L104.18,221.22 L104.49,221.27 L104.80,221.32 L105.12,221.38 L105.43,221.43 L105.74,221.49 L106.05,221.55 L106.36,221.60 L106.68,221.67 L106.99,221.73 L107.30,221.79 L107.61,221.86 L107.93,221.93 L108.24,222.00 L108.55,222.07 L108.86,222.15 L109.17,222.22 L109.49,222.30 L109.80,222.38 L110.11,222.47 L110.42,222.55 L110.74,222.64 L111.05,222.73 L111.36,222.82 L111.67,222.92 L111.98,223.01 L112.30,223.11 L112.61,223.22 L112.92,223.32 L113.23,223.43 L113.55,223.54 L113.86,223.65 L114.17,223.77 L114.48,223.89 L114.79,224.01 L115.11,224.13 L115.42,224.26 L115.73,224.39 L116.04,224.53 L116.35,224.66 L116.67,224.80 L116.98,224.95 L117.29,225.10 L117.60,225.25 L117.92,225.40 L118.23,225.56 L118.54,225.72 L118.85,225.88 L119.16,226.05 L119.48,226.23 L119.79,226.40 L120.10,226.58 L120.41,226.76 L120.73,226.95 L121.04,227.14 L121.35,227.34 L121.66,227.54 L121.97,227.74 L122.29,227.95 L122.60,228.16 L122.91,228.37 L123.22,228.59 L123.54,228.81 L123.85,229.04 L124.16,229.27 L124.47,229.50 L124.78,229.74 L125.10,229.99 L125.41,230.23 L125.72,230.48 L126.03,230.74 L126.35,231.00 L126.66,231.26 L126.97,231.52 L127.28,231.79 L127.59,232.07 L127.91,232.34 L128.22,232.63 L128.53,232.91 L128.84,233.20 L129.15,233.49 L129.47,233.78 L129.78,234.08 L130.09,234.38 L130.40,234.69 L130.72,234.99 L131.03,235.30 L131.34,235.61 L131.65,235.93 L131.96,236.25 L132.28,236.57 L132.59,236.89 L132.90,237.21 L133.21,237.54 L133.53,237.87 L133.84,238.20 L134.15,238.53 L134.46,238.86 L134.77,239.20 L135.09,239.53 L135.40,239.87 L135.71,240.21 L136.02,240.55 L136.34,240.89 L136.65,241.23 L136.96,241.57 L137.27,241.90 L137.58,242.24 L137.90,242.58 L138.21,242.92 L138.52,243.26 L138.83,243.60 L139.15,243.94 L139.46,244.27 L139.77,244.61 L140.08,244.94 L140.39,245.27 L140.71,245.60 L141.02,245.93 L141.33,246.26 L141.64,246.58 L141.96,246.90 L142.27,247.22 L142.58,247.54 L142.89,247.86 L143.20,248.17 L143.52,248.48 L143.83,248.78 L144.14,249.09 L144.45,249.39 L144.76,249.69 L145.08,249.98 L145.39,250.27 L145.70,250.56 L146.01,250.84 L146.33,251.13" fill="none" stroke="#239130" stroke-width="1.5"/>
<rect x="57.00" y="218.50" width="3.2" height="3.2" fill="#333"/>
<line x1="90.10" y1="217.80" x2="90.10" y2="224.50" stroke="#239130" stroke-width="1.0"/>
<line x1="88.60" y1="217.80" x2="91.60" y2="217.80" stroke="#239130" stroke-width="1.0"/>
<line x1="88.60" y1="224.50" x2="91.60" y2="224.50" stroke="#239130" stroke-width="1.0"/>
<path d="M90.10,218.20 L92.10,222.50 L88.10,222.50Z" fill="#239130"/>
<line x1="99.30" y1="217.80" x2="99.30" y2="224.50" stroke="#239130" stroke-width="1.0"/>
<line x1="97.80" y1="217.80" x2="100.80" y2="217.80" stroke="#239130" stroke-width="1.0"/>
<line x1="97.80" y1="224.50" x2="100.80" y2="224.50" stroke="#239130" stroke-width="1.0"/>
<path d="M99.30,218.00 L101.30,222.30 L97.30,222.30Z" fill="#239130"/>
<line x1="108.20" y1="219.50" x2="108.20" y2="224.50" stroke="#7a6a20" stroke-width="1.0"/>
<line x1="106.70" y1="219.50" x2="109.70" y2="219.50" stroke="#7a6a20" stroke-width="1.0"/>
<line x1="106.70" y1="224.50" x2="109.70" y2="224.50" stroke="#7a6a20" stroke-width="1.0"/>
<path d="M108.20,219.30 L110.20,223.60 L106.20,223.60Z" fill="#6d6a25"/>
<line x1="117.80" y1="214.20" x2="117.80" y2="220.00" stroke="#da2c34" stroke-width="1.0"/>
<line x1="116.30" y1="214.20" x2="119.30" y2="214.20" stroke="#da2c34" stroke-width="1.0"/>
<line x1="116.30" y1="220.00" x2="119.30" y2="220.00" stroke="#da2c34" stroke-width="1.0"/>
<circle cx="117.80" cy="217.30" r="1.5" fill="#da2c34"/>
<line x1="118.20" y1="224.50" x2="118.20" y2="229.00" stroke="#239130" stroke-width="1.0"/>
<line x1="116.70" y1="224.50" x2="119.70" y2="224.50" stroke="#239130" stroke-width="1.0"/>
<line x1="116.70" y1="229.00" x2="119.70" y2="229.00" stroke="#239130" stroke-width="1.0"/>
<path d="M118.20,224.50 L120.00,228.40 L116.40,228.40Z" fill="#239130"/>
<line x1="118.00" y1="232.30" x2="118.00" y2="240.90" stroke="#da2c34" stroke-width="1.0"/>
<line x1="116.50" y1="232.30" x2="119.50" y2="232.30" stroke="#da2c34" stroke-width="1.0"/>
<line x1="116.50" y1="240.90" x2="119.50" y2="240.90" stroke="#da2c34" stroke-width="1.0"/>
<circle cx="118.00" cy="236.20" r="1.5" fill="#da2c34"/>
<line x1="127.70" y1="226.00" x2="127.70" y2="230.50" stroke="#da2c34" stroke-width="1.0"/>
<line x1="126.20" y1="226.00" x2="129.20" y2="226.00" stroke="#da2c34" stroke-width="1.0"/>
<line x1="126.20" y1="230.50" x2="129.20" y2="230.50" stroke="#da2c34" stroke-width="1.0"/>
<circle cx="127.70" cy="228.20" r="1.5" fill="#da2c34"/>
<line x1="127.50" y1="230.50" x2="127.50" y2="236.00" stroke="#239130" stroke-width="1.0"/>
<line x1="126.00" y1="230.50" x2="129.00" y2="230.50" stroke="#239130" stroke-width="1.0"/>
<line x1="126.00" y1="236.00" x2="129.00" y2="236.00" stroke="#239130" stroke-width="1.0"/>
<path d="M127.50,231.00 L129.30,234.90 L125.70,234.90Z" fill="#239130"/>
<line x1="127.50" y1="256.00" x2="127.50" y2="264.50" stroke="#da2c34" stroke-width="1.0"/>
<line x1="126.00" y1="256.00" x2="129.00" y2="256.00" stroke="#da2c34" stroke-width="1.0"/>
<line x1="126.00" y1="264.50" x2="129.00" y2="264.50" stroke="#da2c34" stroke-width="1.0"/>
<circle cx="127.50" cy="260.30" r="1.5" fill="#da2c34"/>
<line x1="137.30" y1="233.00" x2="137.30" y2="238.00" stroke="#da2c34" stroke-width="1.0"/>
<line x1="135.80" y1="233.00" x2="138.80" y2="233.00" stroke="#da2c34" stroke-width="1.0"/>
<line x1="135.80" y1="238.00" x2="138.80" y2="238.00" stroke="#da2c34" stroke-width="1.0"/>
<circle cx="137.30" cy="235.50" r="1.5" fill="#da2c34"/>
<line x1="137.00" y1="239.00" x2="137.00" y2="244.00" stroke="#239130" stroke-width="1.0"/>
<line x1="135.50" y1="239.00" x2="138.50" y2="239.00" stroke="#239130" stroke-width="1.0"/>
<line x1="135.50" y1="244.00" x2="138.50" y2="244.00" stroke="#239130" stroke-width="1.0"/>
<path d="M137.00,239.50 L138.80,243.40 L135.20,243.40Z" fill="#239130"/>
<line x1="136.80" y1="261.80" x2="136.80" y2="271.00" stroke="#239130" stroke-width="1.0"/>
<line x1="135.30" y1="261.80" x2="138.30" y2="261.80" stroke="#239130" stroke-width="1.0"/>
<line x1="135.30" y1="271.00" x2="138.30" y2="271.00" stroke="#239130" stroke-width="1.0"/>
<path d="M136.80,264.30 L138.60,268.20 L135.00,268.20Z" fill="#239130"/>
<circle cx="137.20" cy="280.80" r="1.5" fill="#da2c34"/>
<line x1="146.50" y1="247.60" x2="146.50" y2="255.40" stroke="#6a6020" stroke-width="1.0"/>
<line x1="145.00" y1="247.60" x2="148.00" y2="247.60" stroke="#6a6020" stroke-width="1.0"/>
<line x1="145.00" y1="255.40" x2="148.00" y2="255.40" stroke="#6a6020" stroke-width="1.0"/>
<path d="M146.50,249.50 L148.50,253.80 L144.50,253.80Z" fill="#6d6a25"/>
<path d="M146.60,278.10 L148.30,281.80 L144.90,281.80Z" fill="#239130"/>
<circle cx="146.60" cy="285.40" r="1.5" fill="#da2c34"/>
<line x1="166.10" y1="226.20" x2="179.80" y2="226.20" stroke="#dc3830" stroke-width="1.5"/>
<text x="185.40" y="229.60" font-size="10.2" font-weight="normal" font-style="italic" text-anchor="start" fill="#222" stroke="#222" stroke-width="0.2">WT ABT-737</text>
<line x1="166.10" y1="237.50" x2="176.60" y2="237.50" stroke="#dc3830" stroke-width="1.3" stroke-dasharray="3.2,4.2"/>
<text x="185.40" y="241.90" font-size="10.2" font-weight="normal" font-style="italic" text-anchor="start" fill="#222" stroke="#222" stroke-width="0.2">vavP-Bcl-2 ABT-737</text>
<line x1="166.10" y1="250.80" x2="179.80" y2="250.80" stroke="#239130" stroke-width="1.5"/>
<text x="185.40" y="254.60" font-size="10.2" font-weight="normal" font-style="italic" text-anchor="start" fill="#222" stroke="#222" stroke-width="0.2">WT ABT-263</text>
<line x1="166.10" y1="263.30" x2="176.60" y2="263.30" stroke="#239130" stroke-width="1.3" stroke-dasharray="3.2,4.2"/>
<text x="185.40" y="266.90" font-size="10.2" font-weight="normal" font-style="italic" text-anchor="start" fill="#222" stroke="#222" stroke-width="0.2">vavP-Bcl-2 ABT-263</text>
<text x="283.00" y="177.10" font-size="14.3" font-weight="bold" font-style="normal" text-anchor="start" fill="#000" >D</text>
<text x="329.50" y="185.90" font-size="10.25" font-weight="bold" font-style="normal" text-anchor="start" fill="#111" >BM Transitional B cells</text>
<line x1="322.50" y1="203.71" x2="322.50" y2="289.90" stroke="#222" stroke-width="1.3"/>
<line x1="319.60" y1="287.35" x2="322.50" y2="287.35" stroke="#222" stroke-width="1.1"/>
<text transform="translate(316.30,289.91) scale(0.9,1.0)" font-size="7.1" font-weight="normal" font-style="normal" text-anchor="end" fill="#1a1a1a" stroke="#1a1a1a" stroke-width="0.3">0</text>
<line x1="319.60" y1="273.41" x2="322.50" y2="273.41" stroke="#222" stroke-width="1.1"/>
<text transform="translate(316.30,275.97) scale(0.9,1.0)" font-size="7.1" font-weight="normal" font-style="normal" text-anchor="end" fill="#1a1a1a" stroke="#1a1a1a" stroke-width="0.3">20</text>
<line x1="319.60" y1="259.47" x2="322.50" y2="259.47" stroke="#222" stroke-width="1.1"/>
<text transform="translate(316.30,262.03) scale(0.9,1.0)" font-size="7.1" font-weight="normal" font-style="normal" text-anchor="end" fill="#1a1a1a" stroke="#1a1a1a" stroke-width="0.3">40</text>
<line x1="319.60" y1="245.53" x2="322.50" y2="245.53" stroke="#222" stroke-width="1.1"/>
<text transform="translate(316.30,248.09) scale(0.9,1.0)" font-size="7.1" font-weight="normal" font-style="normal" text-anchor="end" fill="#1a1a1a" stroke="#1a1a1a" stroke-width="0.3">60</text>
<line x1="319.60" y1="231.59" x2="322.50" y2="231.59" stroke="#222" stroke-width="1.1"/>
<text transform="translate(316.30,234.15) scale(0.9,1.0)" font-size="7.1" font-weight="normal" font-style="normal" text-anchor="end" fill="#1a1a1a" stroke="#1a1a1a" stroke-width="0.3">80</text>
<line x1="319.60" y1="217.65" x2="322.50" y2="217.65" stroke="#222" stroke-width="1.1"/>
<text transform="translate(316.30,220.21) scale(0.9,1.0)" font-size="7.1" font-weight="normal" font-style="normal" text-anchor="end" fill="#1a1a1a" stroke="#1a1a1a" stroke-width="0.3">100</text>
<line x1="319.60" y1="203.71" x2="322.50" y2="203.71" stroke="#222" stroke-width="1.1"/>
<text transform="translate(316.30,206.27) scale(0.9,1.0)" font-size="7.1" font-weight="normal" font-style="normal" text-anchor="end" fill="#1a1a1a" stroke="#1a1a1a" stroke-width="0.3">120</text>
<line x1="322.60" y1="287.30" x2="447.38" y2="287.30" stroke="#222" stroke-width="1.3"/>
<line x1="322.50" y1="287.30" x2="322.50" y2="289.70" stroke="#222" stroke-width="1.1"/>
<text transform="translate(322.50,297.76) scale(0.9,1.0)" font-size="7.1" font-weight="normal" font-style="normal" text-anchor="middle" fill="#1a1a1a" stroke="#1a1a1a" stroke-width="0.3">-12</text>
<line x1="353.72" y1="287.30" x2="353.72" y2="289.70" stroke="#222" stroke-width="1.1"/>
<text transform="translate(353.72,297.76) scale(0.9,1.0)" font-size="7.1" font-weight="normal" font-style="normal" text-anchor="middle" fill="#1a1a1a" stroke="#1a1a1a" stroke-width="0.3">-10</text>
<line x1="384.94" y1="287.30" x2="384.94" y2="289.70" stroke="#222" stroke-width="1.1"/>
<text transform="translate(384.94,297.76) scale(0.9,1.0)" font-size="7.1" font-weight="normal" font-style="normal" text-anchor="middle" fill="#1a1a1a" stroke="#1a1a1a" stroke-width="0.3">-8</text>
<line x1="416.16" y1="287.30" x2="416.16" y2="289.70" stroke="#222" stroke-width="1.1"/>
<text transform="translate(416.16,297.76) scale(0.9,1.0)" font-size="7.1" font-weight="normal" font-style="normal" text-anchor="middle" fill="#1a1a1a" stroke="#1a1a1a" stroke-width="0.3">-6</text>
<line x1="447.38" y1="287.30" x2="447.38" y2="289.70" stroke="#222" stroke-width="1.1"/>
<text transform="translate(447.38,297.76) scale(0.9,1.0)" font-size="7.1" font-weight="normal" font-style="normal" text-anchor="middle" fill="#1a1a1a" stroke="#1a1a1a" stroke-width="0.3">-4</text>
<text x="335.50" y="315.20" font-size="10.45" font-weight="normal" font-style="normal" text-anchor="start" fill="#222" stroke="#222" stroke-width="0.25">Log [ABT-737] (M)</text>
<text transform="translate(298.40,244.30) rotate(-90)" x="0" y="0" font-size="10.4" text-anchor="middle" fill="#222" stroke="#222" stroke-width="0.25">Viability (% untreated)</text>
<path d="M397.33,229.65 L397.64,230.28 L397.95,230.93 L398.26,231.61 L398.58,232.32 L398.89,233.05 L399.20,233.80 L399.51,234.58 L399.83,235.38 L400.14,236.21 L400.45,237.06 L400.76,237.93 L401.07,238.82 L401.39,239.73 L401.70,240.67 L402.01,241.62 L402.32,242.58 L402.64,243.56 L402.95,244.56 L403.26,245.57 L403.57,246.58 L403.88,247.61 L404.20,248.64 L404.51,249.67 L404.82,250.71 L405.13,251.74 L405.45,252.78 L405.76,253.81 L406.07,254.83 L406.38,255.85 L406.69,256.86 L407.01,257.85 L407.32,258.83 L407.63,259.80 L407.94,260.75 L408.25,261.68 L408.57,262.59 L408.88,263.49 L409.19,264.36 L409.50,265.21 L409.82,266.03 L410.13,266.84 L410.44,267.62 L410.75,268.37 L411.06,269.10 L411.38,269.80 L411.69,270.48 L412.00,271.14 L412.31,271.77 L412.63,272.37 L412.94,272.95 L413.25,273.51 L413.56,274.04 L413.87,274.55 L414.19,275.04 L414.50,275.51 L414.81,275.95 L415.12,276.37 L415.44,276.78 L415.75,277.16 L416.06,277.53 L416.37,277.88 L416.68,278.21 L417.00,278.52 L417.31,278.82 L417.62,279.10 L417.93,279.37 L418.25,279.62 L418.56,279.86 L418.87,280.08 L419.18,280.30 L419.49,280.50 L419.81,280.69 L420.12,280.87 L420.43,281.05 L420.74,281.21 L421.06,281.36 L421.37,281.50 L421.68,281.64 L421.99,281.77 L422.30,281.89 L422.62,282.00 L422.93,282.11 L423.24,282.21 L423.55,282.31 L423.87,282.39 L424.18,282.48 L424.49,282.56 L424.80,282.63 L425.11,282.70 L425.43,282.77" fill="none" stroke="#dc3830" stroke-width="1.4" stroke-dasharray="2,3.6"/>
<path d="M338.01,217.62 L338.32,217.62 L338.63,217.62 L338.95,217.62 L339.26,217.62 L339.57,217.62 L339.88,217.62 L340.20,217.62 L340.51,217.62 L340.82,217.62 L341.13,217.62 L341.44,217.62 L341.76,217.62 L342.07,217.62 L342.38,217.62 L342.69,217.62 L343.01,217.63 L343.32,217.63 L343.63,217.63 L343.94,217.63 L344.25,217.63 L344.57,217.63 L344.88,217.63 L345.19,217.63 L345.50,217.63 L345.81,217.63 L346.13,217.63 L346.44,217.63 L346.75,217.64 L347.06,217.64 L347.38,217.64 L347.69,217.64 L348.00,217.64 L348.31,217.64 L348.62,217.64 L348.94,217.64 L349.25,217.65 L349.56,217.65 L349.87,217.65 L350.19,217.65 L350.50,217.65 L350.81,217.65 L351.12,217.65 L351.43,217.66 L351.75,217.66 L352.06,217.66 L352.37,217.66 L352.68,217.66 L353.00,217.66 L353.31,217.67 L353.62,217.67 L353.93,217.67 L354.24,217.67 L354.56,217.67 L354.87,217.68 L355.18,217.68 L355.49,217.68 L355.81,217.68 L356.12,217.69 L356.43,217.69 L356.74,217.69 L357.05,217.69 L357.37,217.70 L357.68,217.70 L357.99,217.70 L358.30,217.70 L358.62,217.71 L358.93,217.71 L359.24,217.71 L359.55,217.72 L359.86,217.72 L360.18,217.72 L360.49,217.73 L360.80,217.73 L361.11,217.74 L361.42,217.74 L361.74,217.74 L362.05,217.75 L362.36,217.75 L362.67,217.76 L362.99,217.76 L363.30,217.77 L363.61,217.77 L363.92,217.78 L364.23,217.78 L364.55,217.79 L364.86,217.79 L365.17,217.80 L365.48,217.80 L365.80,217.81 L366.11,217.82 L366.42,217.82 L366.73,217.83 L367.04,217.84 L367.36,217.84 L367.67,217.85 L367.98,217.86 L368.29,217.86 L368.61,217.87 L368.92,217.88 L369.23,217.89 L369.54,217.90 L369.85,217.91 L370.17,217.91 L370.48,217.92 L370.79,217.93 L371.10,217.94 L371.42,217.95 L371.73,217.96 L372.04,217.97 L372.35,217.98 L372.66,218.00 L372.98,218.01 L373.29,218.02 L373.60,218.03 L373.91,218.04 L374.23,218.06 L374.54,218.07 L374.85,218.08 L375.16,218.10 L375.47,218.11 L375.79,218.13 L376.10,218.14 L376.41,218.16 L376.72,218.18 L377.03,218.19 L377.35,218.21 L377.66,218.23 L377.97,218.25 L378.28,218.27 L378.60,218.28 L378.91,218.30 L379.22,218.33 L379.53,218.35 L379.84,218.37 L380.16,218.39 L380.47,218.41 L380.78,218.44 L381.09,218.46 L381.41,218.49 L381.72,218.51 L382.03,218.54 L382.34,218.57 L382.65,218.59 L382.97,218.62 L383.28,218.65 L383.59,218.68 L383.90,218.71 L384.22,218.75 L384.53,218.78 L384.84,218.81 L385.15,218.85 L385.46,218.89 L385.78,218.92 L386.09,218.96 L386.40,219.00 L386.71,219.04 L387.03,219.08 L387.34,219.12 L387.65,219.17 L387.96,219.21 L388.27,219.26 L388.59,219.31 L388.90,219.36 L389.21,219.41 L389.52,219.46 L389.84,219.51 L390.15,219.57 L390.46,219.62 L390.77,219.68 L391.08,219.74 L391.40,219.80 L391.71,219.86 L392.02,219.93 L392.33,219.99 L392.64,220.06 L392.96,220.13 L393.27,220.20 L393.58,220.28 L393.89,220.35 L394.21,220.43 L394.52,220.51 L394.83,220.59 L395.14,220.68 L395.45,220.76 L395.77,220.85 L396.08,220.94 L396.39,221.04 L396.70,221.13 L397.02,221.23 L397.33,221.33 L397.64,221.44 L397.95,221.54 L398.26,221.65 L398.58,221.76 L398.89,221.88 L399.20,222.00 L399.51,222.12 L399.83,222.24 L400.14,222.37 L400.45,222.50 L400.76,222.63 L401.07,222.77 L401.39,222.91 L401.70,223.06 L402.01,223.20 L402.32,223.35 L402.64,223.51 L402.95,223.67 L403.26,223.83 L403.57,224.00 L403.88,224.17 L404.20,224.34 L404.51,224.52 L404.82,224.70 L405.13,224.89 L405.45,225.08 L405.76,225.28 L406.07,225.48 L406.38,225.69 L406.69,225.89 L407.01,226.11 L407.32,226.33 L407.63,226.55 L407.94,226.78 L408.25,227.01 L408.57,227.25 L408.88,227.50 L409.19,227.75 L409.50,228.00 L409.82,228.26 L410.13,228.52 L410.44,228.79 L410.75,229.07 L411.06,229.35 L411.38,229.64 L411.69,229.93 L412.00,230.23 L412.31,230.53 L412.63,230.84 L412.94,231.15 L413.25,231.47 L413.56,231.79 L413.87,232.13 L414.19,232.46 L414.50,232.80 L414.81,233.15 L415.12,233.51 L415.44,233.86 L415.75,234.23 L416.06,234.60 L416.37,234.97 L416.68,235.36 L417.00,235.74 L417.31,236.13 L417.62,236.53 L417.93,236.93 L418.25,237.34 L418.56,237.76 L418.87,238.17 L419.18,238.60 L419.49,239.03 L419.81,239.46 L420.12,239.90 L420.43,240.34 L420.74,240.78 L421.06,241.24 L421.37,241.69 L421.68,242.15 L421.99,242.61 L422.30,243.08 L422.62,243.55 L422.93,244.03 L423.24,244.50 L423.55,244.98 L423.87,245.47 L424.18,245.95 L424.49,246.44 L424.80,246.94 L425.11,247.43 L425.43,247.93" fill="none" stroke="#dc3830" stroke-width="1.45"/>
<path d="M338.01,218.09 L338.32,218.09 L338.63,218.09 L338.95,218.09 L339.26,218.09 L339.57,218.09 L339.88,218.09 L340.20,218.09 L340.51,218.09 L340.82,218.09 L341.13,218.09 L341.44,218.09 L341.76,218.09 L342.07,218.09 L342.38,218.09 L342.69,218.09 L343.01,218.09 L343.32,218.09 L343.63,218.09 L343.94,218.09 L344.25,218.09 L344.57,218.09 L344.88,218.09 L345.19,218.09 L345.50,218.09 L345.81,218.09 L346.13,218.09 L346.44,218.09 L346.75,218.09 L347.06,218.09 L347.38,218.09 L347.69,218.09 L348.00,218.09 L348.31,218.09 L348.62,218.09 L348.94,218.09 L349.25,218.09 L349.56,218.09 L349.87,218.09 L350.19,218.09 L350.50,218.09 L350.81,218.09 L351.12,218.09 L351.43,218.09 L351.75,218.09 L352.06,218.09 L352.37,218.09 L352.68,218.09 L353.00,218.09 L353.31,218.09 L353.62,218.09 L353.93,218.09 L354.24,218.09 L354.56,218.09 L354.87,218.09 L355.18,218.09 L355.49,218.09 L355.81,218.09 L356.12,218.09 L356.43,218.09 L356.74,218.09 L357.05,218.09 L357.37,218.09 L357.68,218.09 L357.99,218.09 L358.30,218.09 L358.62,218.09 L358.93,218.09 L359.24,218.09 L359.55,218.09 L359.86,218.09 L360.18,218.09 L360.49,218.09 L360.80,218.09 L361.11,218.09 L361.42,218.09 L361.74,218.09 L362.05,218.09 L362.36,218.09 L362.67,218.09 L362.99,218.09 L363.30,218.09 L363.61,218.09 L363.92,218.09 L364.23,218.09 L364.55,218.09 L364.86,218.09 L365.17,218.09 L365.48,218.09 L365.80,218.09 L366.11,218.09 L366.42,218.09 L366.73,218.09 L367.04,218.09 L367.36,218.09 L367.67,218.09 L367.98,218.09 L368.29,218.09 L368.61,218.09 L368.92,218.09 L369.23,218.09 L369.54,218.09 L369.85,218.09 L370.17,218.09 L370.48,218.09 L370.79,218.09 L371.10,218.09 L371.42,218.09 L371.73,218.09 L372.04,218.09 L372.35,218.09 L372.66,218.09 L372.98,218.09 L373.29,218.09 L373.60,218.09 L373.91,218.09 L374.23,218.09 L374.54,218.09 L374.85,218.09 L375.16,218.09 L375.47,218.09 L375.79,218.09 L376.10,218.09 L376.41,218.09 L376.72,218.09 L377.03,218.09 L377.35,218.09 L377.66,218.09 L377.97,218.09 L378.28,218.09 L378.60,218.09 L378.91,218.09 L379.22,218.09 L379.53,218.09 L379.84,218.09 L380.16,218.09 L380.47,218.09 L380.78,218.09 L381.09,218.09 L381.41,218.09 L381.72,218.09 L382.03,218.09 L382.34,218.09 L382.65,218.09 L382.97,218.09 L383.28,218.09 L383.59,218.09 L383.90,218.09 L384.22,218.09 L384.53,218.09 L384.84,218.09 L385.15,218.09 L385.46,218.09 L385.78,218.09 L386.09,218.09 L386.40,218.09 L386.71,218.09 L387.03,218.09 L387.34,218.09 L387.65,218.09 L387.96,218.09 L388.27,218.09 L388.59,218.09 L388.90,218.09 L389.21,218.09 L389.52,218.09 L389.84,218.09 L390.15,218.09 L390.46,218.09 L390.77,218.09 L391.08,218.09 L391.40,218.09 L391.71,218.09 L392.02,218.09 L392.33,218.10 L392.64,218.10 L392.96,218.10 L393.27,218.10 L393.58,218.10 L393.89,218.10 L394.21,218.10 L394.52,218.10 L394.83,218.10 L395.14,218.10 L395.45,218.10 L395.77,218.10 L396.08,218.10 L396.39,218.10 L396.70,218.10 L397.02,218.10 L397.33,218.11 L397.64,218.11 L397.95,218.11 L398.26,218.11 L398.58,218.11 L398.89,218.11 L399.20,218.11 L399.51,218.11 L399.83,218.11 L400.14,218.12 L400.45,218.12 L400.76,218.12 L401.07,218.12 L401.39,218.12 L401.70,218.13 L402.01,218.13 L402.32,218.13 L402.64,218.13 L402.95,218.13 L403.26,218.14 L403.57,218.14 L403.88,218.14 L404.20,218.15 L404.51,218.15 L404.82,218.15 L405.13,218.16 L405.45,218.16 L405.76,218.17 L406.07,218.17 L406.38,218.17 L406.69,218.18 L407.01,218.18 L407.32,218.19 L407.63,218.20 L407.94,218.20 L408.25,218.21 L408.57,218.21 L408.88,218.22 L409.19,218.23 L409.50,218.24 L409.82,218.25 L410.13,218.26 L410.44,218.26 L410.75,218.27 L411.06,218.29 L411.38,218.30 L411.69,218.31 L412.00,218.32 L412.31,218.33 L412.63,218.35 L412.94,218.36 L413.25,218.38 L413.56,218.39 L413.87,218.41 L414.19,218.43 L414.50,218.45 L414.81,218.47 L415.12,218.49 L415.44,218.51 L415.75,218.54 L416.06,218.56 L416.37,218.59 L416.68,218.62 L417.00,218.65 L417.31,218.68 L417.62,218.71 L417.93,218.75 L418.25,218.79 L418.56,218.83 L418.87,218.87 L419.18,218.91 L419.49,218.96 L419.81,219.00 L420.12,219.06 L420.43,219.11 L420.74,219.17 L421.06,219.23 L421.37,219.29 L421.68,219.36 L421.99,219.43 L422.30,219.50 L422.62,219.58 L422.93,219.67 L423.24,219.75 L423.55,219.85 L423.87,219.94 L424.18,220.05 L424.49,220.15 L424.80,220.27 L425.11,220.39 L425.43,220.51" fill="none" stroke="#111" stroke-width="1.5"/>
<rect x="336.40" y="216.40" width="3.2" height="3.2" fill="#111"/>
<line x1="369.20" y1="215.80" x2="369.20" y2="222.30" stroke="#111" stroke-width="1.0"/>
<line x1="367.70" y1="215.80" x2="370.70" y2="215.80" stroke="#111" stroke-width="1.0"/>
<line x1="367.70" y1="222.30" x2="370.70" y2="222.30" stroke="#111" stroke-width="1.0"/>
<rect x="367.60" y="217.40" width="3.2" height="3.2" fill="#111"/>
<circle cx="378.60" cy="218.60" r="2.0" fill="#111"/>
<line x1="387.90" y1="218.00" x2="387.90" y2="224.30" stroke="#111" stroke-width="1.0"/>
<line x1="386.40" y1="218.00" x2="389.40" y2="218.00" stroke="#111" stroke-width="1.0"/>
<line x1="386.40" y1="224.30" x2="389.40" y2="224.30" stroke="#111" stroke-width="1.0"/>
<rect x="386.30" y="218.80" width="3.2" height="3.2" fill="#111"/>
<rect x="405.70" y="216.50" width="3.2" height="3.2" fill="#111"/>
<line x1="416.60" y1="215.80" x2="416.60" y2="220.00" stroke="#111" stroke-width="1.0"/>
<line x1="415.10" y1="215.80" x2="418.10" y2="215.80" stroke="#111" stroke-width="1.0"/>
<line x1="415.10" y1="220.00" x2="418.10" y2="220.00" stroke="#111" stroke-width="1.0"/>
<rect x="415.00" y="216.10" width="3.2" height="3.2" fill="#111"/>
<line x1="425.90" y1="218.60" x2="425.90" y2="222.70" stroke="#111" stroke-width="1.0"/>
<line x1="424.40" y1="218.60" x2="427.40" y2="218.60" stroke="#111" stroke-width="1.0"/>
<line x1="424.40" y1="222.70" x2="427.40" y2="222.70" stroke="#111" stroke-width="1.0"/>
<rect x="424.30" y="219.10" width="3.2" height="3.2" fill="#111"/>
<line x1="397.70" y1="212.40" x2="397.70" y2="217.30" stroke="#da2c34" stroke-width="1.0"/>
<line x1="396.20" y1="212.40" x2="399.20" y2="212.40" stroke="#da2c34" stroke-width="1.0"/>
<line x1="396.20" y1="217.30" x2="399.20" y2="217.30" stroke="#da2c34" stroke-width="1.0"/>
<circle cx="397.70" cy="215.60" r="1.5" fill="#da2c34"/>
<line x1="407.30" y1="225.30" x2="407.30" y2="230.30" stroke="#da2c34" stroke-width="1.0"/>
<line x1="405.80" y1="225.30" x2="408.80" y2="225.30" stroke="#da2c34" stroke-width="1.0"/>
<line x1="405.80" y1="230.30" x2="408.80" y2="230.30" stroke="#da2c34" stroke-width="1.0"/>
<circle cx="407.30" cy="227.80" r="1.5" fill="#da2c34"/>
<line x1="416.60" y1="231.00" x2="416.60" y2="236.00" stroke="#da2c34" stroke-width="1.0"/>
<line x1="415.10" y1="231.00" x2="418.10" y2="231.00" stroke="#da2c34" stroke-width="1.0"/>
<line x1="415.10" y1="236.00" x2="418.10" y2="236.00" stroke="#da2c34" stroke-width="1.0"/>
<circle cx="416.60" cy="233.50" r="1.5" fill="#da2c34"/>
<line x1="425.90" y1="244.80" x2="425.90" y2="250.90" stroke="#da2c34" stroke-width="1.0"/>
<line x1="424.40" y1="244.80" x2="427.40" y2="244.80" stroke="#da2c34" stroke-width="1.0"/>
<line x1="424.40" y1="250.90" x2="427.40" y2="250.90" stroke="#da2c34" stroke-width="1.0"/>
<circle cx="425.90" cy="248.00" r="1.5" fill="#da2c34"/>
<line x1="397.70" y1="229.70" x2="397.70" y2="238.20" stroke="#da2c34" stroke-width="1.0"/>
<line x1="396.20" y1="229.70" x2="399.20" y2="229.70" stroke="#da2c34" stroke-width="1.0"/>
<line x1="396.20" y1="238.20" x2="399.20" y2="238.20" stroke="#da2c34" stroke-width="1.0"/>
<circle cx="397.70" cy="233.70" r="1.5" fill="#da2c34"/>
<line x1="407.20" y1="254.40" x2="407.20" y2="261.70" stroke="#da2c34" stroke-width="1.0"/>
<line x1="405.70" y1="254.40" x2="408.70" y2="254.40" stroke="#da2c34" stroke-width="1.0"/>
<line x1="405.70" y1="261.70" x2="408.70" y2="261.70" stroke="#da2c34" stroke-width="1.0"/>
<circle cx="407.20" cy="258.00" r="1.5" fill="#da2c34"/>
<circle cx="416.70" cy="278.20" r="1.5" fill="#da2c34"/>
<circle cx="425.60" cy="283.00" r="1.5" fill="#da2c34"/>
<line x1="445.80" y1="234.40" x2="458.20" y2="234.40" stroke="#c83232" stroke-width="1.2"/>
<text x="465.70" y="237.00" font-size="10.2" font-weight="normal" font-style="italic" text-anchor="start" fill="#222" stroke="#222" stroke-width="0.2">WT</text>
<line x1="446.00" y1="245.80" x2="456.30" y2="245.80" stroke="#b83838" stroke-width="1.3" stroke-dasharray="3.8,2.7"/>
<text x="465.70" y="249.90" font-size="10.2" font-weight="normal" font-style="italic" text-anchor="start" fill="#222" stroke="#222" stroke-width="0.2">vavP-Bcl-2</text>
<line x1="446.90" y1="260.50" x2="460.00" y2="260.50" stroke="#000" stroke-width="1.2"/>
<text x="465.70" y="263.10" font-size="10.2" font-weight="normal" font-style="italic" text-anchor="start" fill="#222" stroke="#222" stroke-width="0.2">vavP-Mcl-1</text>
</svg>
</body></html>
